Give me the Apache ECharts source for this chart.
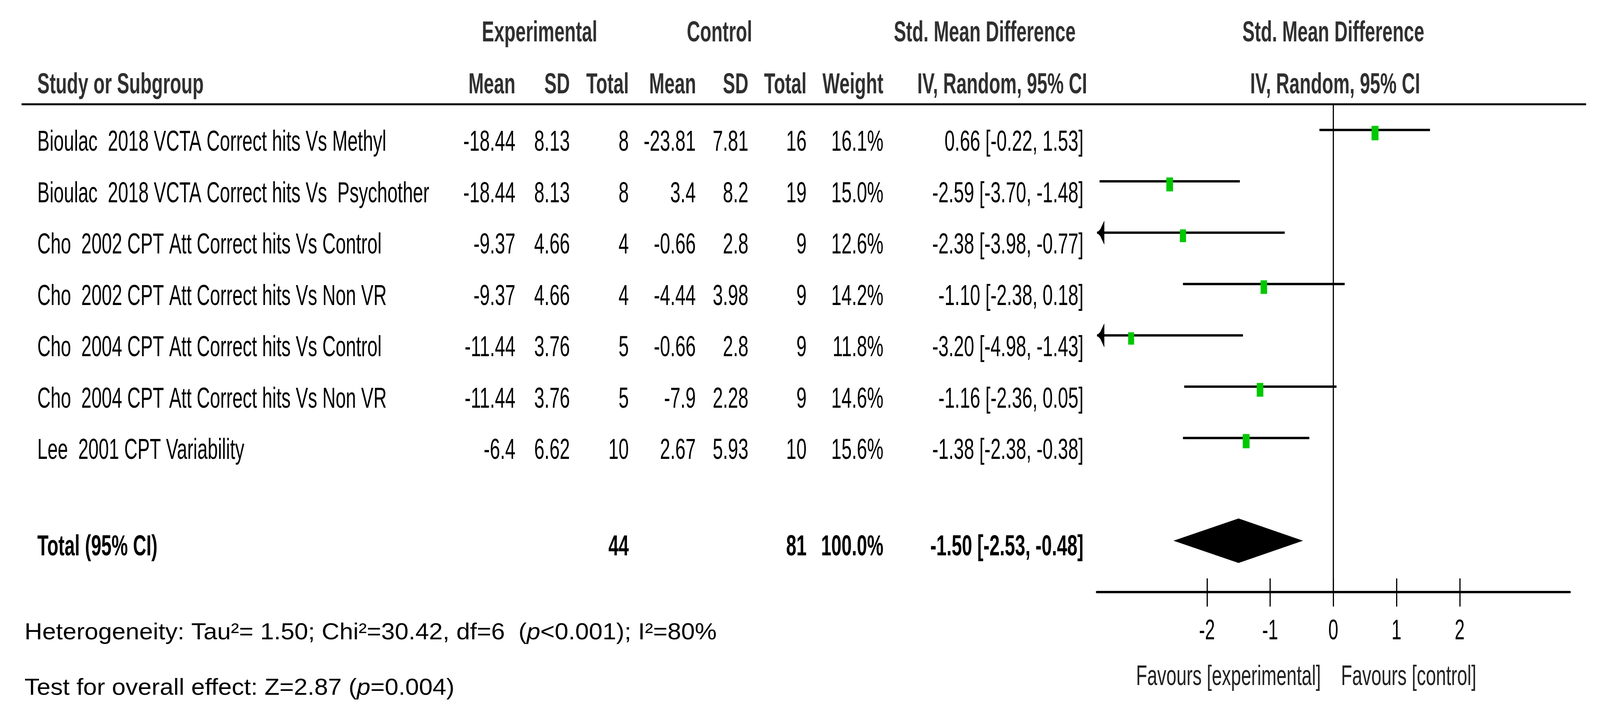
<!DOCTYPE html>
<html>
<head>
<meta charset="utf-8">
<script src="https://cdn.jsdelivr.net/npm/echarts@6/dist/echarts.min.js"></script>
<style>
html,body{margin:0;padding:0;background:#ffffff;overflow:hidden}
#c{width:100vw;height:1841px}
</style>
</head>
<body>
<div id="c"></div>
<script>
// ---------------- data ----------------
const studies = [
  'Bioulac  2018 VCTA Correct hits Vs Methyl',
  'Bioulac  2018 VCTA Correct hits Vs  Psychother',
  'Cho  2002 CPT Att Correct hits Vs Control',
  'Cho  2002 CPT Att Correct hits Vs Non VR',
  'Cho  2004 CPT Att Correct hits Vs Control',
  'Cho  2004 CPT Att Correct hits Vs Non VR',
  'Lee  2001 CPT Variability'
];
const expMean = [-18.44, -18.44, -9.37, -9.37, -11.44, -11.44, -6.4];
const expSD   = [8.13, 8.13, 4.66, 4.66, 3.76, 3.76, 6.62];
const expN    = [8, 8, 4, 4, 5, 5, 10];
const ctlMean = [-23.81, 3.4, -0.66, -4.44, -0.66, -7.9, 2.67];
const ctlSD   = [7.81, 8.2, 2.8, 3.98, 2.8, 2.28, 5.93];
const ctlN    = [16, 19, 9, 9, 9, 9, 10];
const weights = [16.1, 15.0, 12.6, 14.2, 11.8, 14.6, 15.6];
const smd     = [0.66, -2.59, -2.38, -1.10, -3.20, -1.16, -1.38];
const ciLow   = [-0.22, -3.70, -3.98, -2.38, -4.98, -2.36, -2.38];
const ciHigh  = [1.53, -1.48, -0.77, 0.18, -1.43, 0.05, -0.38];

const totalLabel = 'Total (95% CI)';
const totalExpN = 44;
const totalCtlN = 81;
const totalWeight = 100.0;
const totalSmd = -1.50;
const totalLow = -2.53;
const totalHigh = -0.48;
const totalRow = 8;

const tickValues = [-2, -1, 0, 1, 2];
const tickLabels = ['-2', '-1', '0', '1', '2'];
const favoursLeft = 'Favours [experimental]';
const favoursRight = 'Favours [control]';
const heterogeneityText = 'Heterogeneity: Tau\u00B2= 1.50; Chi\u00B2=30.42, df=6  ({i|p}<0.001); I\u00B2=80%';
const overallText = 'Test for overall effect: Z=2.87 ({i|p}=0.004)';

const axisMin = -3.74, axisMax = 3.74;

// ---------------- styling / layout ----------------
const chart = echarts.init(document.getElementById('c'));
const HS = chart.getWidth() / 4374;   // horizontal fit of the 4374-wide design into the viewport
const X = v => v * HS;

const FONT = '"Liberation Sans", Arial, sans-serif';
const SX = 0.67;
const FS = 75;
const HEAD_COLOR = '#303030';
const FOOT_FS = 60, FOOT_SX = 1.12;

function textEl(x, y, text, align, opt) {
  opt = opt || {};
  return {
    type: 'text',
    x: x, y: y,
    scaleX: (opt.sx || SX) * HS,
    scaleY: 1,
    z: 10,
    style: {
      text: text,
      fontSize: opt.fs || FS,
      fontFamily: FONT,
      fontWeight: opt.bold ? 'bold' : 'normal',
      fill: opt.color || '#000',
      align: align,
      verticalAlign: 'middle',
      rich: opt.rich
    }
  };
}

const fmt2 = v => v.toFixed(2);
const ciText = (e, l, h) => fmt2(e) + ' [' + fmt2(l) + ', ' + fmt2(h) + ']';

const columns = [
  {x: 102,  align: 'left',  get: i => studies[i]},
  {x: 1409, align: 'right', get: i => String(expMean[i])},
  {x: 1558, align: 'right', get: i => String(expSD[i])},
  {x: 1719, align: 'right', get: i => String(expN[i])},
  {x: 1902, align: 'right', get: i => String(ctlMean[i])},
  {x: 2046, align: 'right', get: i => String(ctlSD[i])},
  {x: 2205, align: 'right', get: i => String(ctlN[i])},
  {x: 2415, align: 'right', get: i => weights[i].toFixed(1) + '%'},
  {x: 2962, align: 'right', get: i => ciText(smd[i], ciLow[i], ciHigh[i])}
];

const headerY1 = 85, headerY2 = 218;
const hb = {bold: true, color: HEAD_COLOR};
const italicRich = {i: {fontStyle: 'italic', fontSize: FOOT_FS, fontFamily: FONT, fill: '#000'}};
const headers = [
  textEl(X(1475), headerY1, 'Experimental', 'center', hb),
  textEl(X(1967), headerY1, 'Control', 'center', hb),
  textEl(X(2692), headerY1, 'Std. Mean Difference', 'center', hb),
  textEl(X(3645), headerY1, 'Std. Mean Difference', 'center', hb),
  textEl(X(102),  headerY2, 'Study or Subgroup', 'left', hb),
  textEl(X(1409), headerY2, 'Mean', 'right', hb),
  textEl(X(1558), headerY2, 'SD', 'right', hb),
  textEl(X(1719), headerY2, 'Total', 'right', hb),
  textEl(X(1903), headerY2, 'Mean', 'right', hb),
  textEl(X(2046), headerY2, 'SD', 'right', hb),
  textEl(X(2205), headerY2, 'Total', 'right', hb),
  textEl(X(2415), headerY2, 'Weight', 'right', hb),
  textEl(X(2972), headerY2, 'IV, Random, 95% CI', 'right', hb),
  textEl(X(3650), headerY2, 'IV, Random, 95% CI', 'center', hb),
  {type: 'line', z: 5, shape: {x1: X(59), y1: 267, x2: X(4336), y2: 267}, style: {stroke: '#000', lineWidth: 5}},
  textEl(X(67), 1620, heterogeneityText, 'left', {fs: FOOT_FS, sx: FOOT_SX, rich: italicRich}),
  textEl(X(67), 1762, overallText, 'left', {fs: FOOT_FS, sx: FOOT_SX, rich: italicRich})
];

const studyRows = studies.map((s, i) => [0, i]);
const forestData = smd.map((v, i) => [v, i, ciLow[i], ciHigh[i], weights[i]]);

chart.setOption({
  backgroundColor: '#ffffff',
  animation: false,
  grid: {left: X(2999), top: 267, width: X(1292), height: 1249},
  xAxis: [
    {
      type: 'value', min: axisMin, max: axisMax, position: 'bottom',
      axisLine: {show: true, onZero: false, lineStyle: {color: '#000', width: 6}},
      axisTick: {show: true, inside: true, length: 35, customValues: tickValues, lineStyle: {color: '#000', width: 3}},
      axisLabel: {show: false},
      splitLine: {show: false}
    },
    {
      type: 'value', min: axisMin, max: axisMax, position: 'top', offset: -1249,
      axisLine: {show: false, onZero: false},
      axisTick: {show: true, inside: true, length: 37, customValues: tickValues, lineStyle: {color: '#000', width: 3}},
      axisLabel: {show: false},
      splitLine: {show: false}
    }
  ],
  yAxis: {type: 'value', inverse: true, min: -0.5, max: 9, show: false},
  graphic: {elements: headers},
  series: [
    { // study rows of the table
      type: 'custom', name: 'table', clip: false, silent: true,
      data: studyRows, encode: {x: 0, y: 1},
      renderItem: function (params, api) {
        const i = params.dataIndex;
        const y = api.coord([0, api.value(1)])[1] + 33;
        return {type: 'group', children: columns.map(c => textEl(X(c.x), y, c.get(i), c.align))};
      }
    },
    { // total row of the table
      type: 'custom', name: 'totalText', clip: false, silent: true,
      data: [[0, totalRow]], encode: {x: 0, y: 1},
      renderItem: function (params, api) {
        const y = api.coord([0, api.value(1)])[1] + 17;
        return {type: 'group', children: [
          textEl(X(102), y, totalLabel, 'left', {bold: true}),
          textEl(X(1719), y, String(totalExpN), 'right', {bold: true}),
          textEl(X(2205), y, String(totalCtlN), 'right', {bold: true}),
          textEl(X(2415), y, totalWeight.toFixed(1) + '%', 'right', {bold: true}),
          textEl(X(2962), y, ciText(totalSmd, totalLow, totalHigh), 'right', {bold: true})
        ]};
      }
    },
    { // line of no effect
      type: 'custom', name: 'zero', clip: false, silent: true,
      data: [[0, -0.5, 9]], encode: {x: 0, y: [1, 2]},
      renderItem: function (params, api) {
        const p1 = api.coord([api.value(0), api.value(1)]);
        const p2 = api.coord([api.value(0), api.value(2)]);
        return {type: 'line', shape: {x1: p1[0], y1: p1[1], x2: p2[0], y2: p2[1]},
          style: {stroke: '#000', lineWidth: 3}};
      }
    },
    { // CI lines, arrows and weighted squares
      type: 'custom', name: 'studies', clip: false, silent: true,
      data: forestData, encode: {x: [0, 2, 3], y: 1},
      renderItem: function (params, api) {
        const est = api.value(0), row = api.value(1), lo = api.value(2), hi = api.value(3), w = api.value(4);
        const y = api.coord([0, row])[1];
        const xs = api.coord([Math.max(lo, axisMin), row])[0];
        const xe = api.coord([Math.min(hi, axisMax), row])[0];
        const xc = api.coord([est, row])[0];
        const k = Math.sqrt(w / 16.1);
        const ch = [{type: 'line', shape: {x1: xs, y1: y, x2: xe, y2: y}, style: {stroke: '#000', lineWidth: 6}}];
        if (lo < axisMin) {
          ch.push({type: 'polygon', shape: {points: [
              [xs, y], [xs + X(9), y - 9], [xs + X(20), y - 31],
              [xs + X(20), y + 31], [xs + X(9), y + 9]]},
            style: {fill: '#000'}});
        }
        const sw = X(19) * k, sh = 37 * k;
        ch.push({type: 'rect', shape: {x: xc - sw / 2, y: y + 8 - sh / 2, width: sw, height: sh},
          style: {fill: '#00c800'}});
        return {type: 'group', children: ch};
      }
    },
    { // pooled diamond
      type: 'custom', name: 'total', clip: false, silent: true,
      data: [[totalSmd, totalRow, totalLow, totalHigh]], encode: {x: [0, 2, 3], y: 1},
      renderItem: function (params, api) {
        const y = api.coord([0, api.value(1)])[1];
        const xc = api.coord([api.value(0), 0])[0];
        const xl = api.coord([api.value(2), 0])[0];
        const xr = api.coord([api.value(3), 0])[0];
        return {type: 'polygon', shape: {points: [[xl, y], [xc, y - 57], [xr, y], [xc, y + 57]]},
          style: {fill: '#000'}};
      }
    },
    { // tick labels
      type: 'custom', name: 'ticks', clip: false, silent: true,
      data: tickValues.map((v, i) => [v, 9, i]), encode: {x: 0, y: 1},
      renderItem: function (params, api) {
        const p = api.coord([api.value(0), api.value(1)]);
        return textEl(p[0], p[1] + 101, tickLabels[params.dataIndex], 'center', {fs: 72, sx: 0.68});
      }
    },
    { // favours labels
      type: 'custom', name: 'favours', clip: false, silent: true,
      data: [[0, 9]], encode: {x: 0, y: 1},
      renderItem: function (params, api) {
        const p = api.coord([api.value(0), api.value(1)]);
        return {type: 'group', children: [
          textEl(p[0] - X(34), p[1] + 218, favoursLeft, 'right', {fs: 72, sx: 0.69, color: '#222'}),
          textEl(p[0] + X(21), p[1] + 218, favoursRight, 'left', {fs: 72, sx: 0.69, color: '#222'})
        ]};
      }
    }
  ]
});
</script>
</body>
</html>
